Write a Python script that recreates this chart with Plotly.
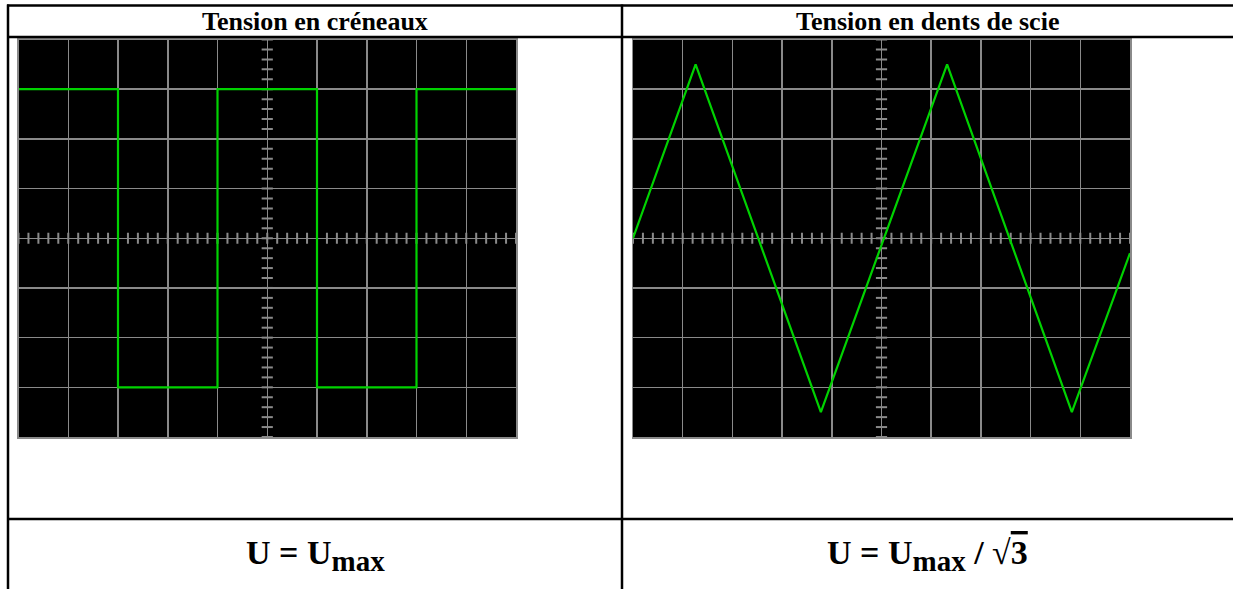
import numpy as np
import plotly.graph_objects as go

W, H = 1233, 589

# ---- data (in screen divisions; 10 x 8 graticule) ----
square_t = [-5, -3, -3, -1, -1, 1, 1, 3, 3, 5]
square_u = [3, 3, -3, -3, 3, 3, -3, -3, 3, 3]

tri_t = [-5, -3.74, -1.22, 1.32, 3.83, 5]
tri_u = [0, 3.5, -3.5, 3.5, -3.5, -0.3]

titles = ["Tension en créneaux", "Tension en dents de scie"]
formulas = [
    "U = U<sub><span style='font-size:29px'>max</span></sub>",
    "U = U<sub><span style='font-size:29px'>max</span></sub> / √<span style='text-decoration:overline'>3</span>",
]

GREEN = "#00d200"
GRID = "#8a8a8a"
SERIF = "Liberation Serif"


def px_x(p):
    return p / W


def px_y(p):
    return 1 - p / H


fig = go.Figure()

scopes = [
    dict(x0=18.5, x1=516, t=square_t, u=square_u),
    dict(x0=633, x1=1130, t=tri_t, u=tri_u),
]
sy0, sy1 = 39.5, 437

minor = np.round(np.arange(-5, 5.001, 0.2), 3)
minor_y = np.round(np.arange(-4, 4.001, 0.2), 3)

for i, s in enumerate(scopes, start=1):
    xa = "x" if i == 1 else f"x{i}"
    ya = "y" if i == 1 else f"y{i}"
    # centre-axis tick marks
    fig.add_trace(go.Scatter(x=minor, y=[0] * len(minor), xaxis=xa, yaxis=ya,
                             mode="markers", hoverinfo="skip",
                             marker=dict(symbol="line-ns", size=8, color=GRID,
                                         line=dict(color=GRID, width=2))))
    fig.add_trace(go.Scatter(x=[0] * len(minor_y), y=minor_y, xaxis=xa, yaxis=ya,
                             mode="markers", hoverinfo="skip",
                             marker=dict(symbol="line-ew", size=8, color=GRID,
                                         line=dict(color=GRID, width=2))))
    fig.add_trace(go.Scatter(x=s["t"], y=s["u"], xaxis=xa, yaxis=ya,
                             mode="lines", line=dict(color=GREEN, width=2.2),
                             hoverinfo="skip"))
    axkw = dict(showgrid=True, gridcolor=GRID, gridwidth=1.5, zeroline=True,
                zerolinecolor=GRID, zerolinewidth=1.5, showticklabels=False,
                ticks="", showline=True, linecolor=GRID, linewidth=1.5,
                mirror=True, fixedrange=True)
    fig.layout[("xaxis" if i == 1 else f"xaxis{i}")] = dict(
        domain=[px_x(s["x0"]), px_x(s["x1"])], range=[-5, 5], dtick=1,
        anchor=ya, **axkw)
    fig.layout[("yaxis" if i == 1 else f"yaxis{i}")] = dict(
        domain=[px_y(sy1), px_y(sy0)], range=[-4, 4], dtick=1,
        anchor=xa, **axkw)

# ---- table borders ----
LW = 2.5
lines = [
    (8, 4.5, 8, H),        # left border
    (622, 4.5, 622, H),    # middle divider
    (7, 5.5, W, 5.5),      # top border
    (7, 37, W, 37),        # header bottom
    (7, 519, W, 519),      # formula row top
]
for x0, y0, x1, y1 in lines:
    fig.add_shape(type="line", xref="paper", yref="paper",
                  x0=px_x(x0), y0=px_y(y0), x1=px_x(x1), y1=px_y(y1),
                  line=dict(color="black", width=LW))

centers = [315, 927.5]
for c, t, f in zip(centers, titles, formulas):
    fig.add_annotation(x=px_x(c), y=px_y(21.5), xref="paper", yref="paper",
                       text=f"<b>{t}</b>", showarrow=False,
                       xanchor="center", yanchor="middle",
                       font=dict(family=SERIF, size=26, color="black"))
    fig.add_annotation(x=px_x(c), y=px_y(555), xref="paper", yref="paper",
                       text=f"<b>{f}</b>", showarrow=False,
                       xanchor="center", yanchor="middle",
                       font=dict(family=SERIF, size=34, color="black"))

fig.update_layout(width=W, height=H, margin=dict(l=0, r=0, t=0, b=0),
                  paper_bgcolor="white", plot_bgcolor="black",
                  showlegend=False)

fig.write_html(
    "out.html",
    config={"displayModeBar": False, "staticPlot": True},
    post_script="document.body.style.margin='0';document.body.style.overflow='hidden';",
)
